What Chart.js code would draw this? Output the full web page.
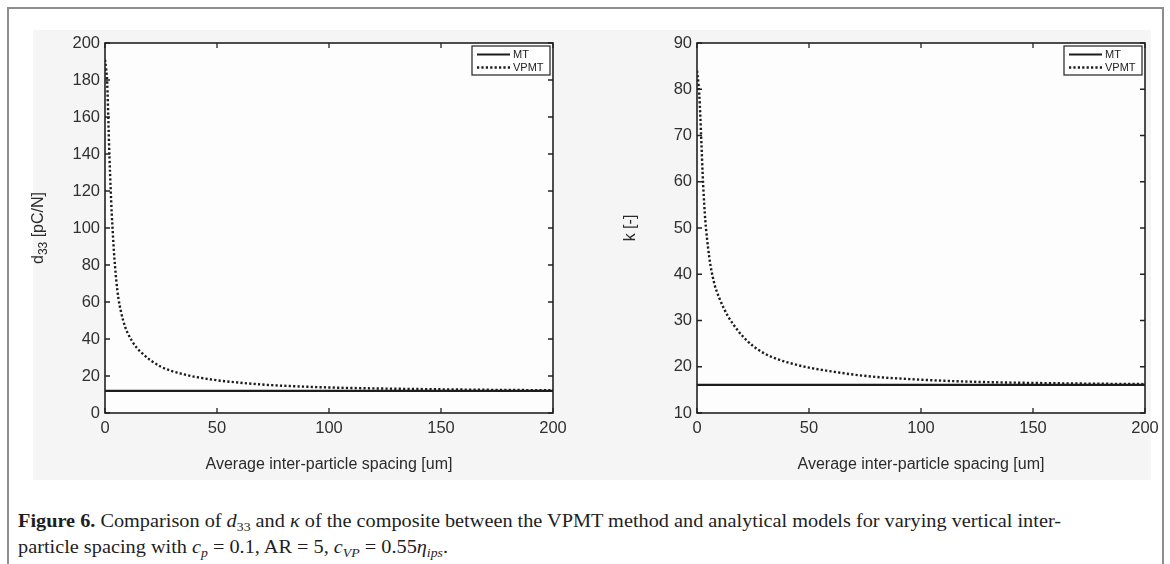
<!DOCTYPE html>
<html><head><meta charset="utf-8">
<script src="https://cdn.jsdelivr.net/npm/chart.js@4/dist/chart.umd.min.js"></script>
<style>
html,body{margin:0;padding:0;background:#fff;width:1170px;height:564px;overflow:hidden;position:relative;}
#frame{position:absolute;left:7px;top:7px;width:1157px;height:620px;border:2px solid #8e8e8e;box-sizing:border-box;}
#panel{position:absolute;left:33px;top:30px;width:1118px;height:450px;background:#f5f5f5;}
canvas{position:absolute;top:0;}
#c1{left:0;}
#c2{left:592px;}
.cap{position:absolute;left:18px;font-family:'Liberation Serif','DejaVu Serif',serif;font-size:19px;line-height:20px;color:#1e1e1e;white-space:nowrap;transform-origin:0 0;}
.cap sub{font-size:0.68em;vertical-align:-0.28em;line-height:0;}
</style></head>
<body>
<div id="frame"></div>
<div id="panel"></div>
<canvas id="c1" width="600" height="500" style="width:600px;height:500px"></canvas>
<canvas id="c2" width="578" height="500" style="width:578px;height:500px"></canvas>
<div class="cap" id="cap1" style="top:511px"><b>Figure 6.</b> Comparison of <i>d</i><sub>33</sub> and <i>κ</i> of the composite between the VPMT method and analytical models for varying vertical inter-</div>
<div class="cap" id="cap2" style="top:537px">particle spacing with <i>c<sub>p</sub></i> = 0.1, AR = 5, <i>c<sub>VP</sub></i> = 0.55<i>η<sub>ips</sub></i>.</div>
<script>
// ---- data ----
const xTickValues = [0, 50, 100, 150, 200];
const mtSpacing = [0, 200];
const d33MT = [12.0, 12.0];
const kMT = [16.1, 16.1];

const d33Spacing = [0, 0.5, 1, 1.5, 2, 2.5, 3, 3.5, 4, 4.5, 5, 6, 7, 8, 9, 10, 12, 14, 16, 20, 25, 30, 35, 40, 50, 60, 70, 80, 100, 120, 150, 175, 200];
const d33VPMT   = [191, 186, 178, 158, 138, 122, 108, 97, 87, 79, 72, 62, 55.5, 50.5, 46.5, 43.5, 39, 35.5, 33, 28.8, 25, 22.6, 21, 19.6, 17.7, 16.4, 15.4, 14.7, 13.8, 13.3, 12.8, 12.5, 12.3];

const kSpacing = [0, 0.5, 1, 1.5, 2, 2.5, 3, 3.5, 4, 5, 6, 7, 8, 10, 12, 14, 16, 18, 20, 25, 30, 35, 40, 50, 60, 70, 80, 100, 120, 150, 175, 200];
const kVPMT    = [84, 82, 79, 74, 68, 62, 57, 53, 50, 45.5, 42, 39.5, 37.5, 34.8, 32.6, 30.8, 29.3, 28, 26.8, 24.5, 22.9, 21.8, 21, 19.8, 19, 18.3, 17.8, 17.2, 16.8, 16.5, 16.35, 16.25];

const seriesNames = ['MT', 'VPMT'];
const xTitle = 'Average inter-particle spacing [um]';

const FONT = "'Liberation Sans', Arial, sans-serif";
const INK = '#1c1c1c';

function pts(xs, ys){ return xs.map((x,i)=>({x:x, y:ys[i]})); }

const boxPlugin = {
  id: 'boxPlugin',
  beforeDraw(chart){
    const ctx = chart.ctx, a = chart.chartArea;
    ctx.save();
    ctx.fillStyle = '#fdfdfd';
    ctx.fillRect(a.left, a.top, a.right - a.left, a.bottom - a.top);
    ctx.restore();
  },
  afterDraw(chart){
    const ctx = chart.ctx, a = chart.chartArea;
    const sx = chart.scales.x, sy = chart.scales.y;
    ctx.save();
    ctx.strokeStyle = '#222'; ctx.lineWidth = 1.6;
    ctx.strokeRect(a.left, a.top, a.right - a.left, a.bottom - a.top);
    ctx.lineWidth = 1.3;
    const tl = 5;
    ctx.beginPath();
    sx.ticks.forEach(t => {
      const px = sx.getPixelForValue(t.value);
      ctx.moveTo(px, a.bottom); ctx.lineTo(px, a.bottom - tl);
      ctx.moveTo(px, a.top); ctx.lineTo(px, a.top + tl);
    });
    sy.ticks.forEach(t => {
      const py = sy.getPixelForValue(t.value);
      ctx.moveTo(a.left, py); ctx.lineTo(a.left + tl, py);
      ctx.moveTo(a.right, py); ctx.lineTo(a.right - tl, py);
    });
    ctx.stroke();

    // legend
    const bw = 78, bh = 29;
    const bx = a.right - 3 - bw, by = a.top + 3;
    ctx.fillStyle = '#ffffff';
    ctx.fillRect(bx, by, bw, bh);
    ctx.strokeStyle = '#222'; ctx.lineWidth = 1.2;
    ctx.strokeRect(bx, by, bw, bh);
    ctx.font = '11px ' + FONT;
    ctx.textBaseline = 'middle'; ctx.textAlign = 'left';
    chart.data.datasets.forEach((ds, i) => {
      const ly = by + 8.5 + i * 13;
      ctx.strokeStyle = ds.borderColor;
      ctx.lineWidth = ds.borderWidth;
      ctx.setLineDash(ds.borderDash || []);
      ctx.beginPath(); ctx.moveTo(bx + 5, ly); ctx.lineTo(bx + 38, ly); ctx.stroke();
      ctx.setLineDash([]);
      ctx.fillStyle = '#222';
      ctx.fillText(ds.label, bx + 41, ly + 0.5);
    });

    // axis titles
    const opt = chart.options.plugins.boxPlugin;
    ctx.fillStyle = '#2a2a2a';
    ctx.font = '16px ' + FONT;
    ctx.textAlign = 'center'; ctx.textBaseline = 'middle';
    ctx.fillText(opt.xTitle, (a.left + a.right) / 2, a.bottom + 52);

    ctx.save();
    ctx.translate(a.left - 66, (a.top + a.bottom) / 2);
    ctx.rotate(-Math.PI / 2);
    ctx.textAlign = 'left'; ctx.textBaseline = 'middle';
    const parts = opt.yTitle;
    let total = 0;
    parts.forEach(p => { ctx.font = (p.sub ? '12px ' : '16px ') + FONT; total += ctx.measureText(p.t).width; });
    let cx = -total / 2;
    parts.forEach(p => {
      ctx.font = (p.sub ? '12px ' : '16px ') + FONT;
      ctx.fillText(p.t, cx, p.sub ? 5 : 0);
      cx += ctx.measureText(p.t).width;
    });
    ctx.restore();
    ctx.restore();
  }
};

function makeChart(id, mtY, vx, vy, yMin, yMax, yStep, padRight, yTitleParts){
  return new Chart(document.getElementById(id), {
    type: 'line',
    data: {
      datasets: [
        { label: seriesNames[0], data: pts(mtSpacing, mtY), borderColor: INK, borderWidth: 2.2, pointRadius: 0, fill: false },
        { label: seriesNames[1], data: pts(vx, vy), borderColor: INK, borderWidth: 2.4, borderDash: [2.2, 2.2], pointRadius: 0, fill: false, cubicInterpolationMode: 'monotone' }
      ]
    },
    options: {
      responsive: false, animation: false, devicePixelRatio: 1,
      layout: { padding: { left: 0, top: 43, right: padRight, bottom: 0 } },
      plugins: { legend: { display: false }, tooltip: { enabled: false },
        boxPlugin: { xTitle: xTitle, yTitle: yTitleParts } },
      scales: {
        x: { type: 'linear', min: 0, max: 200,
          afterBuildTicks: s => { s.ticks = xTickValues.map(v => ({value: v})); },
          grid: { display: false, drawTicks: false }, border: { display: false },
          ticks: { autoSkip: false, maxRotation: 0, padding: 6, color: '#303030', font: { family: FONT, size: 16.5 } },
          afterFit: s => { s.height = 87; } },
        y: { min: yMin, max: yMax,
          ticks: { stepSize: yStep, autoSkip: false, padding: 5, color: '#303030', font: { family: FONT, size: 16.5 } },
          grid: { display: false, drawTicks: false }, border: { display: false },
          afterFit: s => { s.width = 105; } }
      }
    },
    plugins: [boxPlugin]
  });
}

makeChart('c1', d33MT, d33Spacing, d33VPMT, 0, 200, 20, 47, [{t:'d'},{t:'33', sub:true},{t:' [pC/N]'}]);
makeChart('c2', kMT, kSpacing, kVPMT, 10, 90, 10, 25, [{t:'k [-]'}]);

// caption fitting
(function(){
  const c1 = document.getElementById('cap1'), c2 = document.getElementById('cap2');
  const target = 1043;
  const w = c1.getBoundingClientRect().width;
  const s = target / w;
  c1.style.transform = 'scaleX(' + s + ')';
  c2.style.transform = 'scaleX(' + s + ')';
})();
</script>
</body></html>
